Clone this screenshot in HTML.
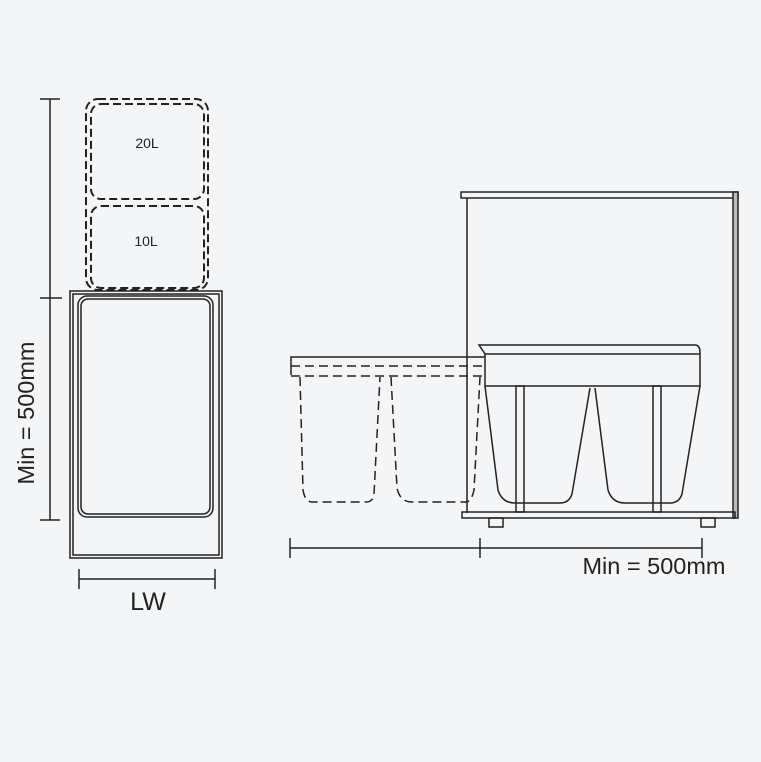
<!DOCTYPE html>
<html><head><style>html,body{margin:0;padding:0;background:#f4f5f7;}svg{display:block;}</style></head>
<body>
<svg width="761" height="762" viewBox="0 0 761 762" xmlns="http://www.w3.org/2000/svg" font-family="Liberation Sans, sans-serif">
<rect width="761" height="762" fill="#f4f5f7"/>
<g fill="none" stroke="#222" stroke-width="1.5">
<line x1="50" y1="99" x2="50" y2="520"/>
<line x1="40" y1="99" x2="60" y2="99"/>
<line x1="40" y1="298" x2="62" y2="298"/>
<line x1="40" y1="520" x2="60" y2="520"/>
<rect x="70" y="291" width="152" height="267"/>
<rect x="73" y="294" width="146" height="261"/>
<rect x="78" y="296" width="135" height="221" rx="9"/>
<rect x="81" y="299" width="129" height="215" rx="7"/>
<g stroke-dasharray="8,4" stroke-width="2">
<rect x="86" y="99" width="122" height="191" rx="12"/>
<rect x="91" y="104" width="113" height="95" rx="10"/>
<rect x="91" y="206" width="113" height="82" rx="10"/>
</g>
<line x1="79" y1="579" x2="215" y2="579"/>
<line x1="79" y1="569" x2="79" y2="589"/>
<line x1="215" y1="569" x2="215" y2="589"/>
<rect x="461" y="192" width="277" height="6"/>
<rect x="733" y="192" width="5" height="326" fill="#bbb"/>
<line x1="467" y1="198" x2="467" y2="513"/>
<rect x="462" y="512" width="273" height="6"/>
<rect x="489" y="518" width="14" height="9"/>
<rect x="701" y="518" width="14" height="9"/>
<path d="M479 345 L696 345 Q700 346 700 352 L700 386 L485 386 L485 354 Z"/>
<line x1="485" y1="354" x2="700" y2="354"/>
<path d="M485 386 L498 490 Q502 503 515 503 L560 503 Q569 503 572 494 L590 388"/>
<path d="M595 388 L608 490 Q612 503 625 503 L670 503 Q679 503 682 494 L700 386"/>
<rect x="516" y="386" width="8" height="126"/>
<rect x="653" y="386" width="8" height="126"/>
<path d="M291 375 L291 357 L485 357"/>
<g stroke-dasharray="9,5">
<line x1="291" y1="366" x2="485" y2="366"/>
<line x1="291" y1="376" x2="485" y2="376"/>
<path d="M300 377 L303 490 Q305 502 312 502 L366 502 Q373 502 374 494 L380 377"/>
<path d="M391 377 L397 488 Q400 502 412 502 L467 502 Q472 500 474 490 L480 377"/>
</g>
<line x1="290" y1="548" x2="702" y2="548"/>
<line x1="290" y1="538" x2="290" y2="558"/>
<line x1="480" y1="538" x2="480" y2="558"/>
<line x1="702" y1="538" x2="702" y2="558"/>
</g>
<g fill="#222">
<text x="147" y="148" font-size="14" text-anchor="middle">20L</text>
<text x="146" y="246" font-size="14" text-anchor="middle">10L</text>
<text x="148" y="610" font-size="25" text-anchor="middle">LW</text>
<text x="654" y="574" font-size="23.5" text-anchor="middle">Min = 500mm</text>
<text transform="translate(34,413) rotate(-90)" font-size="23.5" text-anchor="middle">Min = 500mm</text>
</g>
</svg>
</body></html>
